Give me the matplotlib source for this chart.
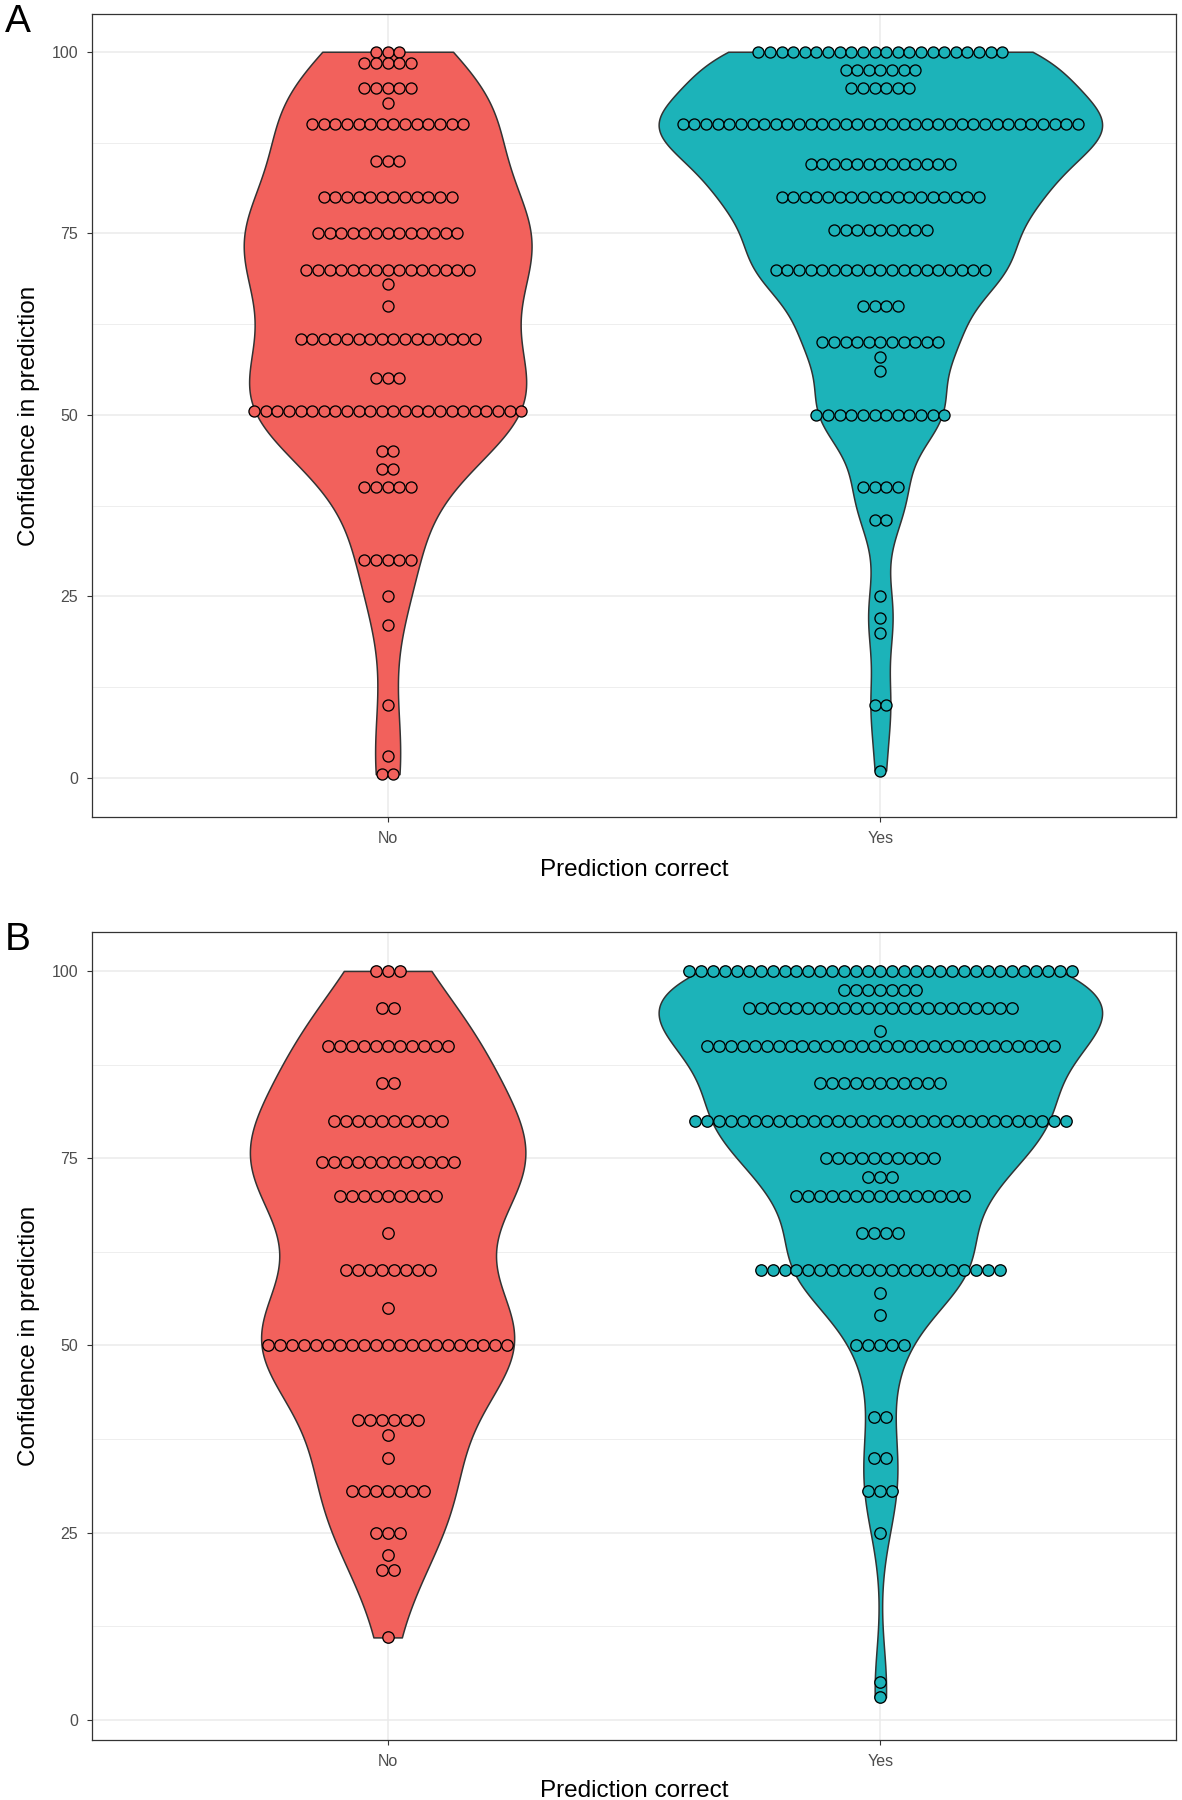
import matplotlib
matplotlib.use("Agg")
import matplotlib.pyplot as plt
import numpy as np

plt.rcParams['font.family'] = ['Liberation Sans', 'DejaVu Sans']

groups = ["No", "Yes"]

# Panel A: confidence values and how many answers sit at each value
a_no_conf = [100, 98.5, 95, 93, 90, 85, 80, 75, 70, 68, 65, 60.5, 55, 50.5, 45, 42.5, 40, 30, 25, 21, 10, 3, 0.5]
a_no_count = [3, 5, 5, 1, 14, 3, 12, 13, 15, 1, 1, 16, 3, 24, 2, 2, 5, 5, 1, 1, 1, 1, 2]
a_yes_conf = [100, 97.5, 95, 90, 84.5, 80, 75.5, 70, 65, 60, 58, 56, 50, 40, 35.5, 25, 22, 20, 10, 1]
a_yes_count = [22, 7, 6, 35, 13, 18, 9, 19, 4, 11, 1, 1, 12, 4, 2, 1, 1, 1, 2, 1]

# Panel B
b_no_conf = [100, 95, 90, 85, 80, 74.5, 70, 65, 60, 55, 50, 40, 38, 35, 30.5, 25, 22, 20, 11]
b_no_count = [3, 2, 11, 2, 10, 12, 9, 1, 8, 1, 21, 6, 1, 1, 7, 3, 1, 2, 1]
b_yes_conf = [100, 97.5, 95, 92, 90, 85, 80, 75, 72.5, 70, 65, 60, 57, 54, 50, 40.5, 35, 30.5, 25, 5, 3]
b_yes_count = [33, 7, 23, 1, 30, 11, 32, 10, 3, 15, 4, 21, 1, 1, 5, 2, 2, 3, 1, 1, 1]

colors = ["#F2615C", "#1CB3B9"]
y_ticks = [0, 25, 50, 75, 100]
y_minor = [12.5, 37.5, 62.5, 87.5]

DOT_BIN = 1.6      # dot diameter in y units (like geom_dotplot binwidth)
DPI = 100


def bw_nrd0(x):
    # same rule as R's bw.nrd0
    sd = np.std(x, ddof=1)
    iqr = np.subtract(*np.percentile(x, [75, 25]))
    lo = min(sd, iqr / 1.34)
    if lo <= 0:
        lo = sd
    return 0.9 * lo * len(x) ** (-0.2)


def density(x, grid):
    bw = bw_nrd0(x)
    z = (grid[:, None] - x[None, :]) / bw
    return np.exp(-0.5 * z ** 2).sum(axis=1) / (len(x) * bw * np.sqrt(2 * np.pi))


def draw_panel(ax, data, ylim):
    ax.set_xlim(0.4, 2.6)
    ax.set_ylim(*ylim)

    # Сетка
    ax.set_yticks(y_ticks)
    ax.set_yticks(y_minor, minor=True)
    ax.set_xticks([1, 2])
    ax.set_xticklabels(groups)
    ax.grid(True, which="major", color="#EBEBEB", lw=1.1, zorder=0)
    ax.grid(True, which="minor", axis="y", color="#EBEBEB", lw=0.6, zorder=0)
    ax.set_axisbelow(True)

    # Violins (scale = "area", width 0.9)
    dens = []
    grids = []
    for conf, count in data:
        raw = np.repeat(np.array(conf, float), count)
        g = np.linspace(raw.min(), raw.max(), 512)
        grids.append(g)
        dens.append(density(raw, g))
    dmax = max(d.max() for d in dens)
    for i in range(len(data)):
        hw = 0.45 * dens[i] / dmax
        ax.fill_betweenx(grids[i], i + 1 - hw, i + 1 + hw, facecolor=colors[i],
                         edgecolor="#333333", lw=1.1, zorder=2)

    # Dot sizes from the axis scale
    fig = ax.figure
    fig.canvas.draw()
    bb = ax.get_window_extent()
    px_y = bb.height / (ylim[1] - ylim[0])
    px_x = bb.width / 2.2
    d_px = DOT_BIN * px_y
    d_pt = d_px * 72 / DPI
    step = d_px / px_x

    for i, (conf, count) in enumerate(data):
        xs, ys = [], []
        for v, k in zip(conf, count):
            for j in range(k):
                xs.append(i + 1 + (j - (k - 1) / 2) * step)
                ys.append(v)
        ax.scatter(xs, ys, s=(d_pt - 0.4) ** 2, facecolor=colors[i], edgecolor="black",
                   linewidths=0.95, zorder=3)

    # Оформление
    for sp in ax.spines.values():
        sp.set_color("#333333")
        sp.set_linewidth(0.9)
    ax.tick_params(axis="both", which="major", length=3.5, width=0.8, color="#333333",
                   labelcolor="#4D4D4D", labelsize=11.5)
    ax.tick_params(axis="y", which="major", pad=6.5)
    ax.tick_params(axis="x", which="major", pad=6.5)
    ax.tick_params(axis="y", which="minor", length=0)

    ax.set_ylabel("Confidence in prediction", fontsize=17.5, color="black")
    ax.set_xlabel("Prediction correct", fontsize=17.5, color="black")
    ax.yaxis.label.set_va("center")
    ax.xaxis.label.set_va("center")


fig = plt.figure(figsize=(11.82, 18.0), dpi=DPI)
ax_a = fig.add_axes([92 / 1182, 1 - 817 / 1800, 1084 / 1182, 803 / 1800])
ax_b = fig.add_axes([92 / 1182, 1 - 1740 / 1800, 1084 / 1182, 808 / 1800])

draw_panel(ax_a, [(a_no_conf, a_no_count), (a_yes_conf, a_yes_count)], (-5.4, 105.2))
draw_panel(ax_b, [(b_no_conf, b_no_count), (b_yes_conf, b_yes_count)], (-2.7, 105.2))

ax_a.xaxis.set_label_coords(0.5, -0.066)
ax_b.xaxis.set_label_coords(0.5, -0.063)
ax_a.yaxis.set_label_coords(-0.058, 0.5)
ax_b.yaxis.set_label_coords(-0.058, 0.5)

fig.text(0.004, 1 - 4 / 1800, "A", fontsize=28, va="top", ha="left")
fig.text(0.004, 1 - 922 / 1800, "B", fontsize=28, va="top", ha="left")

plt.savefig("out.png", dpi=DPI)
plt.close()
